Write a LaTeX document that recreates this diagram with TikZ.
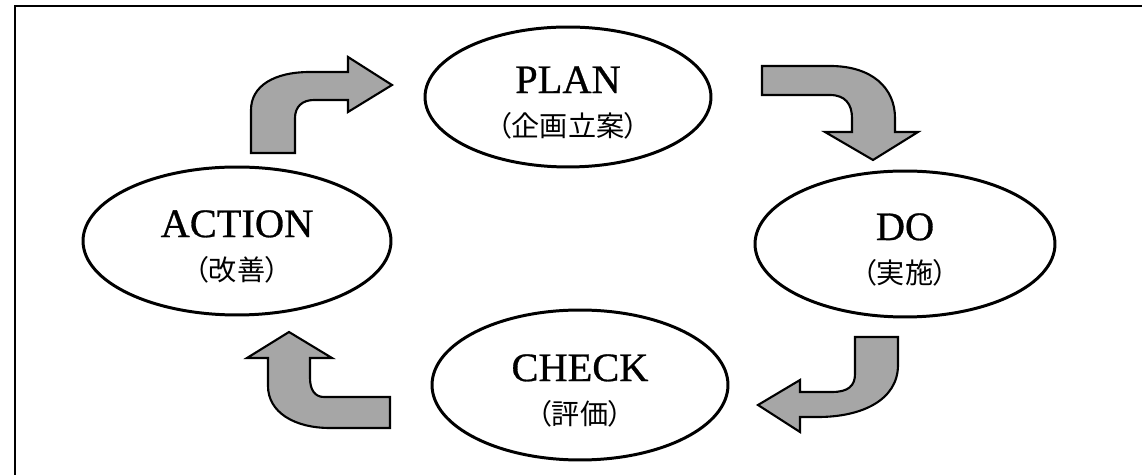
\documentclass[tikz,border=0pt]{standalone}
\usepackage{fontspec}
\setmainfont{Liberation Serif}
\newfontfamily\stagefont[FakeBold=0.7]{Liberation Serif}
\newfontfamily\jpfont[RawFeature=+palt]{Noto Sans CJK JP}
\usetikzlibrary{shapes.geometric}

\begin{document}
\begin{tikzpicture}[x=0.02cm, y=-0.02cm,
    stage/.style={draw, ellipse, line width=1.7pt, inner sep=0pt},
    caption/.style={align=center, font=\stagefont\fontsize{23}{25}\selectfont},
    turn/.style={draw, line width=1.2pt, fill=black!35, line join=miter}]
  \useasboundingbox (0,0) rectangle (1142,475);
  % outer frame, runs off the page on the right and at the bottom
  \begin{scope}
    \clip (0,0) rectangle (1142,475);
    \draw[line width=1.3pt] (15,6) rectangle (1170,495);
  \end{scope}

  % the four stages
  \node[stage, minimum width=5.72cm, minimum height=2.8cm] (plan) at (568,97) {};
  \node[stage, minimum width=6.0cm, minimum height=2.92cm] (do) at (905,244) {};
  \node[stage, minimum width=5.92cm, minimum height=3.0cm] (check) at (580,385) {};
  \node[stage, minimum width=6.16cm, minimum height=2.96cm] (action) at (237,241) {};

  \node[caption] (plantext) at ([yshift=-0.12cm]plan.center) {PLAN\\{\jpfont\fontsize{16}{17}\selectfont （企画立案）}};
  \node[caption] (dotext) at ([yshift=-0.12cm]do.center) {DO\\{\jpfont\fontsize{16}{17}\selectfont （実施）}};
  \node[caption] (checktext) at ([yshift=-0.12cm]check.center) {CHECK\\{\jpfont\fontsize{16}{17}\selectfont （評価）}};
  \node[caption] (actiontext) at ([yshift=-0.12cm]action.center) {ACTION\\{\jpfont\fontsize{16}{17}\selectfont （改善）}};

  % bent arrows between the stages
  % action -> plan
  \draw[turn] (251,153) -- (251,110) .. controls (251,86) and (274,72) .. (310,72)
    -- (348,72) -- (348,57) -- (392,85) -- (348,112) -- (348,100) -- (314,100)
    .. controls (302,100) and (295,107) .. (295,118) -- (295,153) -- cycle;
  % plan -> do
  \draw[turn] (762,66) -- (830,66) .. controls (872,66) and (895,88) .. (895,118)
    -- (895,132) -- (918,132) -- (873,160) -- (825,132) -- (852,132) -- (852,118)
    .. controls (852,104) and (845,95) .. (830,95) -- (762,95) -- cycle;
  % do -> check
  \draw[turn] (855,337) -- (898,337) -- (898,365) .. controls (898,400) and (862,417) .. (818,417)
    -- (800,417) -- (800,432) -- (758,405) -- (800,380) -- (800,392) -- (832,392)
    .. controls (848,392) and (855,386) .. (855,374) -- cycle;
  % check -> action
  \draw[turn] (390,397) -- (324,397) .. controls (315,397) and (310,390) .. (310,378)
    -- (310,358) -- (332,358) -- (289,332) -- (247,358) -- (268,358) -- (268,386)
    .. controls (268,412) and (294,428) .. (330,428) -- (390,428) -- cycle;
\end{tikzpicture}
\end{document}
